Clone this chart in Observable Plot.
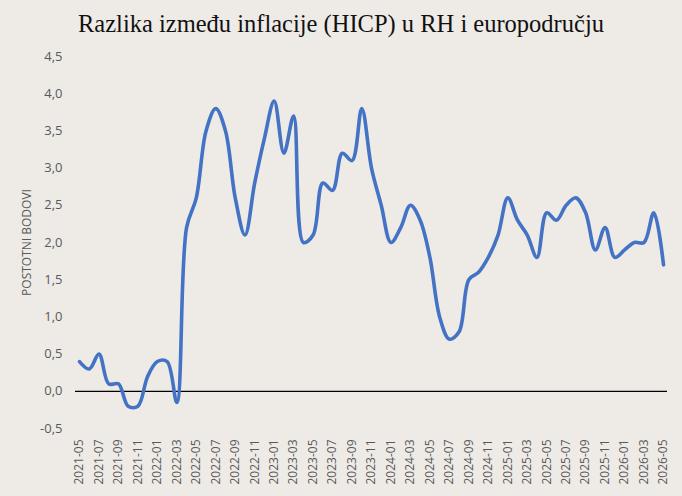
<!DOCTYPE html>
<html>
<head>
<meta charset="utf-8">
<script src="https://cdn.jsdelivr.net/npm/d3@7"></script>
<script src="https://cdn.jsdelivr.net/npm/@observablehq/plot@0.6"></script>
<style>
  html, body { margin: 0; padding: 0; background: #eeebe7; }
  #wrap { width: 682px; height: 496px; overflow: hidden; background: #eeebe7; }
  #title { height: 44px; font-family: "Liberation Serif", serif; font-size: 24.5px; color: #111;
           text-align: center; line-height: 44px; white-space: nowrap; padding-top: 2px; box-sizing: border-box; }
</style>
</head>
<body>
<div id="wrap">
  <div id="title">Razlika između inflacije (HICP) u RH i europodručju</div>
  <div id="chart"></div>
</div>
<script>
const months = [
  "2021-05","2021-06","2021-07","2021-08","2021-09","2021-10","2021-11","2021-12",
  "2022-01","2022-02","2022-03","2022-04","2022-05","2022-06","2022-07","2022-08",
  "2022-09","2022-10","2022-11","2022-12","2023-01","2023-02","2023-03","2023-04",
  "2023-05","2023-06","2023-07","2023-08","2023-09","2023-10","2023-11","2023-12",
  "2024-01","2024-02","2024-03","2024-04","2024-05","2024-06","2024-07","2024-08",
  "2024-09","2024-10","2024-11","2024-12","2025-01","2025-02","2025-03","2025-04",
  "2025-05","2025-06","2025-07","2025-08","2025-09","2025-10","2025-11","2025-12",
  "2026-01","2026-02","2026-03","2026-04","2026-05"
];
const diffValues = [
  0.4, 0.3, 0.5, 0.1, 0.1, -0.2, -0.2, 0.2,
  0.4, 0.4, -0.15, 2.2, 2.6, 3.5, 3.8, 3.5,
  2.6, 2.1, 2.8, 3.4, 3.9, 3.2, 3.7, 2.0,
  2.1, 2.8, 2.7, 3.2, 3.1, 3.8, 3.0, 2.5,
  2.0, 2.2, 2.5, 2.3, 1.8, 1.0, 0.7, 0.8,
  1.5, 1.6, 1.8, 2.1, 2.6, 2.3, 2.1, 1.8,
  2.4, 2.3, 2.5, 2.6, 2.4, 1.9, 2.2, 1.8,
  1.9, 2.0, 2.0, 2.4, 1.7
];
const xTickLabels = months.filter((m, i) => i % 2 === 0);
const yTicks = [-0.5, 0, 0.5, 1, 1.5, 2, 2.5, 3, 3.5, 4, 4.5];
const yLabel = "POSTOTNI BODOVI";

const data = months.map((m, i) => ({month: m, value: diffValues[i]}));
const fmt = d => d.toFixed(1).replace(".", ",");

const chart = Plot.plot({
  width: 682,
  height: 452,
  marginLeft: 79,
  marginRight: 19,
  marginTop: 12,
  marginBottom: 68,
  style: {background: "transparent", fontFamily: "'Open Sans', sans-serif"},
  x: {type: "point", domain: months, padding: 0},
  y: {domain: [-0.5, 4.5]},
  marks: [
    Plot.axisY({ticks: yTicks, tickFormat: fmt, tickSize: 0, tickPadding: 17, fontSize: 13, color: "#595959", label: null}),
    Plot.axisX({ticks: xTickLabels, tickRotate: -90, tickSize: 0, tickPadding: 11, fontSize: 12, color: "#595959", label: null}),
    Plot.text([yLabel], {frameAnchor: "left", rotate: -90, dx: -52, fontSize: 12, fill: "#595959", textAnchor: "middle"}),
    Plot.ruleY([0], {stroke: "#000", strokeWidth: 1.3, insetLeft: -4, insetRight: -4}),
    Plot.line(data, {x: "month", y: "value", stroke: "#4472c4", strokeWidth: 3.6, curve: "catmull-rom"})
  ]
});
document.getElementById("chart").appendChild(chart);
</script>
</body>
</html>
